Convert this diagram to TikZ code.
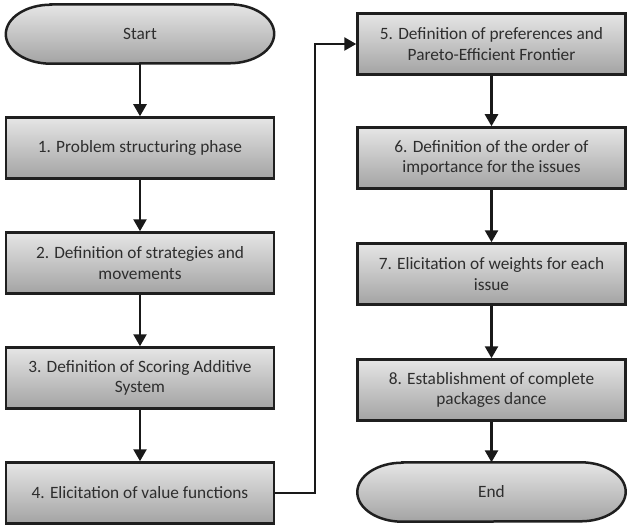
\documentclass[tikz,border=0pt]{standalone}
\usepackage{fontspec}
\setmainfont{Carlito}
\usetikzlibrary{arrows.meta,backgrounds}
\tikzset{
  stepbox/.style={
    inner sep = 0.1cm,
    shape = rectangle,
    draw = black!88,
    line width = 2.5pt,
    minimum width = 268pt,
    minimum height = 61pt,
    top color = black!10,
    bottom color = black!36,
    align = center,
    text = black!82,
    font = \fontsize{17.3}{20.5}\selectfont
  },
  terminal/.style={
    inner sep = 0.1cm,
    shape = rectangle,
    minimum width = 268pt,
    minimum height = 59pt,
    text = black!82,
    font = \fontsize{17.3}{20.5}\selectfont
  },
  terminal_line/.style={
    draw = black!88,
    line width = 2.5pt,
    top color = black!10,
    bottom color = black!36
  },
  flow/.style={
    line width = 2.5pt,
    draw = black!90,
    -{Triangle[length=12pt,width=13pt]}
  }
}
\begin{document}
\begin{tikzpicture}[x=1pt,y=-1pt]
    \def\xl{140}
    \def\xr{491.5}
    \def\rx{45pt}
    \def\ry{29.5pt}
    \useasboundingbox (0,0) rectangle (629,532);
        % left column
        \node[terminal] (start) at (\xl, 34) {Start};
        \node[stepbox] (s1) at (\xl, 148) {1. Problem structuring phase};
        \node[stepbox] (s2) at (\xl, 263) {2. Definition of strategies and\\movements};
        \node[stepbox] (s3) at (\xl, 378) {3. Definition of Scoring Additive\\System};
        \node[stepbox] (s4) at (\xl, 493) {4. Elicitation of value functions};
        % right column
        \node[stepbox] (s5) at (\xr, 44) {5. Definition of preferences and\\Pareto-Efficient Frontier};
        \node[stepbox] (s6) at (\xr, 158) {6. Definition of the order of\\importance for the issues};
        \node[stepbox] (s7) at (\xr, 274) {7. Elicitation of weights for each\\issue};
        \node[stepbox] (s8) at (\xr, 390) {8. Establishment of complete\\packages dance};
        \node[terminal] (end) at (\xr, 492) {End};
        % rounded ends of the terminals
        \begin{scope}[on background layer]
        \foreach \t in {start, end}{
        \draw[terminal_line] ([xshift=\rx]\t.north west) -- ([xshift=-\rx]\t.north east)
            arc[start angle=90, end angle=-90, x radius=\rx, y radius=\ry]
            -- ([xshift=\rx]\t.south west)
            arc[start angle=270, end angle=90, x radius=\rx, y radius=\ry] -- cycle;
        }
        \end{scope}
        % connectors
        \coordinate (turn) at (315, 0);
        \draw[flow] (start) -- (s1);
        \draw[flow] (s1) -- (s2);
        \draw[flow] (s2) -- (s3);
        \draw[flow] (s3) -- (s4);
        \draw[flow] (s4.east) -- (s4.east -| turn) |- (s5.west);
        \draw[flow] (s5) -- (s6);
        \draw[flow] (s6) -- (s7);
        \draw[flow] (s7) -- (s8);
        \draw[flow] (s8) -- (end);
    \end{tikzpicture}
\end{document}
